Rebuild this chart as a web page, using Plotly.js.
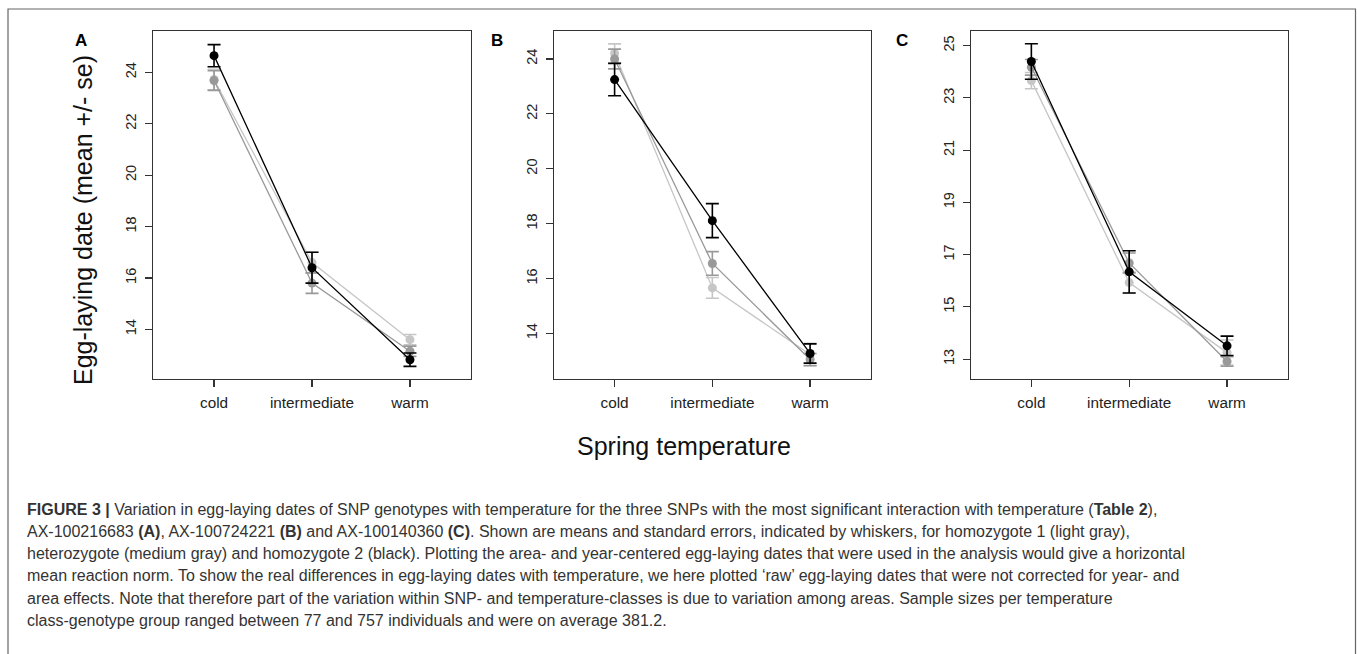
<!DOCTYPE html>
<html>
<head>
<meta charset="utf-8">
<script src="https://cdn.plot.ly/plotly-3.0.1.min.js"></script>
<style>
html,body{margin:0;padding:0;background:#fff;}
#chart{width:1357px;height:654px;}
</style>
</head>
<body>
<div id="chart"></div>
<script>
// ---- data ----
const categories = ['cold', 'intermediate', 'warm'];
const genotypes = ['homozygote 1', 'heterozygote', 'homozygote 2'];

// Panel A: AX-100216683
const A_hom1 = [23.72, 16.60, 13.60];
const A_hom1_se = [0.40, 0.40, 0.20];
const A_het = [23.68, 15.80, 13.15];
const A_het_se = [0.38, 0.40, 0.20];
const A_hom2 = [24.65, 16.40, 12.82];
const A_hom2_se = [0.43, 0.60, 0.26];

// Panel B: AX-100724221
const B_hom1 = [24.20, 15.66, 13.23];
const B_hom1_se = [0.35, 0.38, 0.41];
const B_het = [24.00, 16.55, 13.05];
const B_het_se = [0.36, 0.43, 0.22];
const B_hom2 = [23.25, 18.11, 13.27];
const B_hom2_se = [0.59, 0.62, 0.35];

// Panel C: AX-100140360
const C_hom1 = [23.66, 15.93, 13.25];
const C_hom1_se = [0.31, 0.40, 0.48];
const C_het = [24.17, 16.68, 12.91];
const C_het_se = [0.30, 0.38, 0.18];
const C_hom2 = [24.39, 16.34, 13.51];
const C_hom2_se = [0.68, 0.81, 0.37];

const panelLetters = ['A', 'B', 'C'];
const yTicksAB = [14, 16, 18, 20, 22, 24];
const yTicksC = [13, 15, 17, 19, 21, 23, 25];

const captionLines = [
  '<b>FIGURE 3 |</b> Variation in egg-laying dates of SNP genotypes with temperature for the three SNPs with the most significant interaction with temperature (<b>Table 2</b>),',
  'AX-100216683 <b>(A)</b>, AX-100724221 <b>(B)</b> and AX-100140360 <b>(C)</b>. Shown are means and standard errors, indicated by whiskers, for homozygote 1 (light gray),',
  'heterozygote (medium gray) and homozygote 2 (black). Plotting the area- and year-centered egg-laying dates that were used in the analysis would give a horizontal',
  'mean reaction norm. To show the real differences in egg-laying dates with temperature, we here plotted \u2018raw\u2019 egg-laying dates that were not corrected for year- and',
  'area effects. Note that therefore part of the variation within SNP- and temperature-classes is due to variation among areas. Sample sizes per temperature',
  'class-genotype group ranged between 77 and 757 individuals and were on average 381.2.'
];

// ---- styling ----
const W = 1357, H = 654;
const colors = ['#c6c6c6', '#999999', '#000000'];
const px = v => v / W;
const py = v => 1 - v / H;

const panels = [
  {series: [[A_hom1, A_hom1_se], [A_het, A_het_se], [A_hom2, A_hom2_se]], x0: 153.3, x1: 470.7, yr: [12.07, 25.62], ticks: yTicksAB},
  {series: [[B_hom1, B_hom1_se], [B_het, B_het_se], [B_hom2, B_hom2_se]], x0: 554.0, x1: 870.7, yr: [12.34, 25.03], ticks: yTicksAB},
  {series: [[C_hom1, C_hom1_se], [C_het, C_het_se], [C_hom2, C_hom2_se]], x0: 970.7, x1: 1287.7, yr: [12.24, 25.57], ticks: yTicksC}
];
const yTop = 30.7, yBot = 379;

const traces = [];
const layout = {
  width: W, height: H,
  margin: {l: 0, r: 0, t: 0, b: 0},
  paper_bgcolor: '#fff', plot_bgcolor: '#fff',
  showlegend: false,
  font: {family: 'Liberation Sans, Arial, sans-serif', color: '#222'},
  annotations: [], shapes: []
};

panels.forEach((p, i) => {
  const n = i === 0 ? '' : String(i + 1);
  p.series.forEach((s, g) => {
    traces.push({
      type: 'scatter', mode: 'lines+markers',
      name: genotypes[g],
      x: categories, y: s[0],
      xaxis: 'x' + n, yaxis: 'y' + n,
      line: {color: colors[g], width: 1.3},
      marker: {color: colors[g], size: 9},
      error_y: {type: 'data', array: s[1], visible: true, color: colors[g], thickness: 1.6, width: 6.5},
      hoverinfo: 'x+y'
    });
  });
  layout['xaxis' + n] = {
    domain: [px(p.x0), px(p.x1)],
    anchor: 'y' + n,
    type: 'category',
    range: [-0.62, 2.62],
    showline: true, mirror: true, linecolor: '#333', linewidth: 1.2,
    ticks: 'outside', ticklen: 7, tickcolor: '#333', tickwidth: 1.2,
    showgrid: false, zeroline: false,
    tickfont: {size: 15.3, color: '#222'},
    ticklabelstandoff: 2
  };
  layout['yaxis' + n] = {
    domain: [py(yBot), py(yTop)],
    anchor: 'x' + n,
    range: p.yr,
    tickvals: p.ticks,
    ticktext: p.ticks.map(String),
    tickangle: -90,
    showline: true, mirror: true, linecolor: '#333', linewidth: 1.2,
    ticks: 'outside', ticklen: 7, tickcolor: '#333', tickwidth: 1.2,
    showgrid: false, zeroline: false,
    tickfont: {size: 14.5, color: '#222'},
    ticklabelstandoff: 3
  };
});

// panel letters
const letterX = [81, 497, 902];
panelLetters.forEach((L, i) => {
  layout.annotations.push({
    xref: 'paper', yref: 'paper', x: px(letterX[i]), y: py(40),
    text: '<b>' + L + '</b>', showarrow: false,
    xanchor: 'center', yanchor: 'middle',
    font: {size: 17, color: '#000', family: 'Liberation Sans, Arial, sans-serif'}
  });
});

// axis titles
layout.annotations.push({
  xref: 'paper', yref: 'paper', x: px(83), y: py(220),
  text: 'Egg-laying date (mean +/- se)', showarrow: false, textangle: -90,
  xanchor: 'center', yanchor: 'middle',
  font: {size: 25, color: '#111'}
});
layout.annotations.push({
  xref: 'paper', yref: 'paper', x: px(684), y: py(446),
  text: 'Spring temperature', showarrow: false,
  xanchor: 'center', yanchor: 'middle',
  font: {size: 25, color: '#111'}
});

// caption
const capTop = 509.3, capStep = 22.2;
captionLines.forEach((t, k) => {
  layout.annotations.push({
    xref: 'paper', yref: 'paper', x: px(25), y: py(capTop + k * capStep),
    text: t, showarrow: false, xanchor: 'left', yanchor: 'middle', align: 'left',
    font: {size: 16, color: '#333', family: 'Liberation Sans, Arial, sans-serif'}
  });
});

// outer frame
layout.shapes.push({
  type: 'rect', xref: 'paper', yref: 'paper',
  x0: px(8), x1: px(1355.5), y0: -0.02, y1: py(9),
  line: {color: '#666', width: 1.2}, fillcolor: 'rgba(0,0,0,0)', layer: 'below'
});

Plotly.newPlot('chart', traces, layout, {displayModeBar: false, staticPlot: true});
</script>
</body>
</html>
